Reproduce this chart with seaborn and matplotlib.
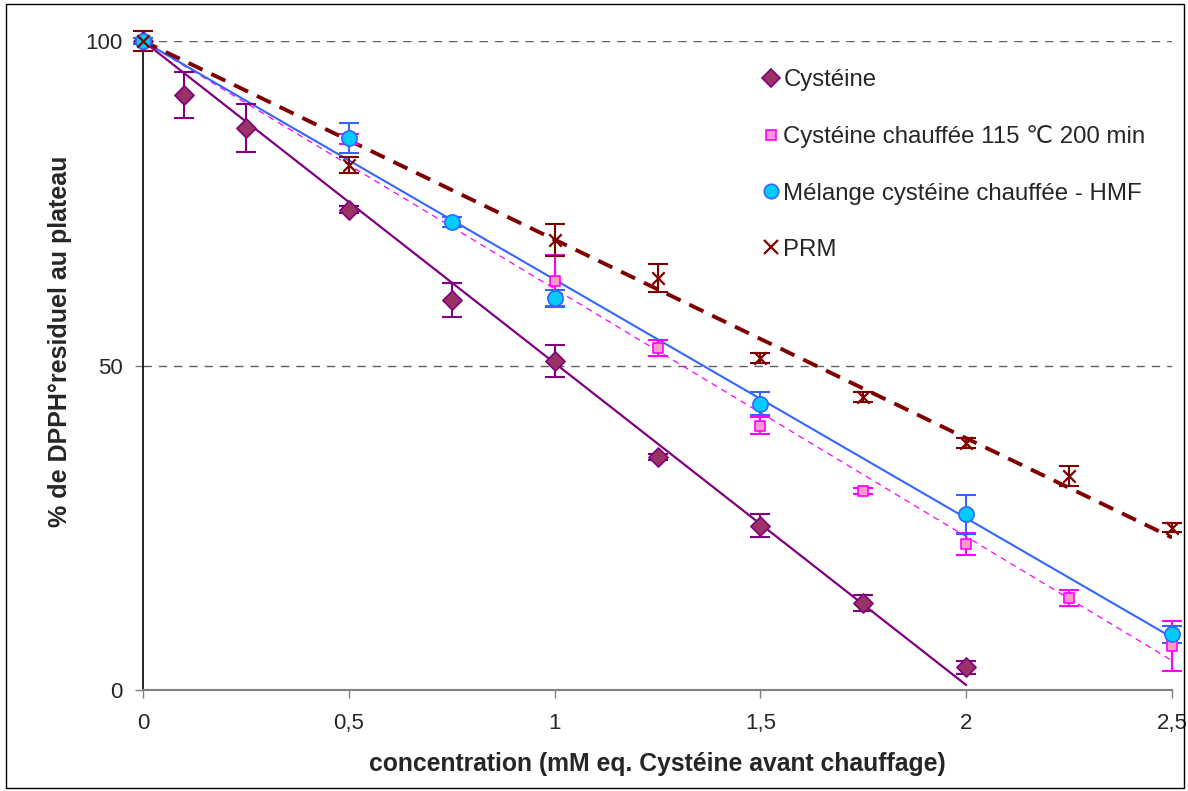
import numpy as np
import pandas as pd
import matplotlib
matplotlib.use("Agg")
import matplotlib.pyplot as plt
import seaborn as sns
from matplotlib.lines import Line2D
from matplotlib.patches import Rectangle

# ---------------- data ----------------
cys_x = [0, 0.1, 0.25, 0.5, 0.75, 1, 1.25, 1.5, 1.75, 2]
cys_y = [100, 91.7, 86.6, 74.0, 60.1, 50.7, 35.9, 25.3, 13.4, 3.5]
cys_e = [0.5, 3.6, 3.7, 0.5, 2.6, 2.5, 0.5, 1.8, 1.3, 1.0]

heat_x = [0, 0.5, 1, 1.25, 1.5, 1.75, 2, 2.25, 2.5]
heat_y = [100, 84.9, 63.0, 52.7, 40.7, 30.7, 22.5, 14.2, 6.8]
heat_e = [0.5, 0.8, 4.0, 1.2, 1.3, 0.5, 1.7, 1.2, 3.9]

mix_x = [0, 0.5, 0.75, 1, 1.5, 2, 2.5]
mix_y = [100, 85.1, 72.1, 60.4, 44.1, 27.1, 8.6]
mix_e = [0.5, 2.3, 0.8, 1.2, 1.8, 3.0, 1.3]

prm_x = [0, 0.5, 1, 1.25, 1.5, 1.75, 2, 2.25, 2.5]
prm_y = [100, 80.9, 69.3, 63.5, 51.2, 45.1, 38.1, 33.0, 25.0]
prm_e = [1.5, 1.2, 2.5, 2.1, 0.8, 0.8, 0.8, 1.5, 0.7]

labels = ["Cystéine", "Cystéine chauffée 115 \u2103 200 min",
          "Mélange cystéine chauffée - HMF", "PRM"]
x_ticks = [0, 0.5, 1, 1.5, 2, 2.5]
x_ticklabels = ["0", "0,5", "1", "1,5", "2", "2,5"]
y_ticks = [0, 50, 100]
y_ticklabels = ["0", "50", "100"]

# ---------------- style ----------------
sns.set_theme(style="white")
plt.rcParams['font.family'] = ['Liberation Sans', 'DejaVu Sans']

fig = plt.figure(figsize=(11.88, 7.91), dpi=100)
ax = fig.add_axes([143/1188, 1-690/791, (1172-143)/1188, (690-41)/791])
fig.patches.append(Rectangle((6/1188, 3/791), 1178/1188, 784/791, transform=fig.transFigure,
                             fill=False, edgecolor='black', linewidth=1.0))

series = [
    dict(x=cys_x, y=cys_y, e=cys_e, marker='D', fc='#993366', ec='#800080', ecol='#800080',
         s=95, lcol='#800080', ls='-', lw=1.6, xmax=2.0),
    dict(x=heat_x, y=heat_y, e=heat_e, marker='s', fc='#FF99CC', ec='#FF00FF', ecol='#FF00FF',
         s=60, lcol='#FF00FF', ls=(0, (5, 4)), lw=0.9, xmax=2.5),
    dict(x=mix_x, y=mix_y, e=mix_e, marker='o', fc='#00CCFF', ec='#3366FF', ecol='#3366FF',
         s=120, lcol='#3366FF', ls='-', lw=1.5, xmax=2.5),
    dict(x=prm_x, y=prm_y, e=prm_e, marker='x', fc='#800000', ec='#800000', ecol='#800000',
         s=80, lcol='#800000', ls=(0, (4, 2.5)), lw=2.8, xmax=2.5),
]

# gridlines
for yv in [50, 100]:
    ax.axhline(yv, color='#606060', lw=1.0, ls=(0, (6, 5)), zorder=1)

for i, sd in enumerate(series):
    x = np.array(sd['x'], dtype=float)
    y = np.array(sd['y'], dtype=float)
    # trendline (least squares, intercept fixed at 100)
    slope = np.sum(x * (y - 100)) / np.sum(x * x)
    tx = np.array([0.0, sd['xmax']])
    ty = 100 + slope * tx
    sns.lineplot(x=tx, y=ty, ax=ax, color=sd['lcol'], lw=sd['lw'], linestyle=sd['ls'],
                 zorder=3 + i * 0.1, legend=False)
    ax.errorbar(x, y, yerr=sd['e'], fmt='none', ecolor=sd['ecol'], elinewidth=1.5,
                capsize=7, capthick=1.5, zorder=4, clip_on=False)
    df = pd.DataFrame({'x': x, 'y': y})
    if sd['marker'] == 'x':
        sns.scatterplot(data=df, x='x', y='y', ax=ax, marker='x', color=sd['fc'], s=sd['s'],
                        linewidth=1.6, zorder=5, clip_on=False, legend=False)
    else:
        sns.scatterplot(data=df, x='x', y='y', ax=ax, marker=sd['marker'], color=sd['fc'],
                        edgecolor=sd['ec'], linewidth=1.2, s=sd['s'], zorder=5,
                        clip_on=False, legend=False)

ax.set_xlim(0, 2.5)
ax.set_ylim(0, 100)
ax.set_xticks(x_ticks)
ax.set_xticklabels(x_ticklabels, fontsize=16)
ax.set_yticks(y_ticks)
ax.set_yticklabels(y_ticklabels, fontsize=16)
ax.tick_params(axis='both', direction='out', length=6, width=1, color='#808080',
               bottom=True, left=True)
ax.tick_params(axis='x', pad=10.5)
ax.tick_params(axis='y', pad=8.5)
for sp in ['top', 'right']:
    ax.spines[sp].set_visible(False)
ax.spines['left'].set_color('black')
ax.spines['bottom'].set_color('#808080')
ax.spines['left'].set_linewidth(1.2)
ax.spines['bottom'].set_linewidth(1.5)
ax.grid(False)
ax.set_xlabel("concentration (mM eq. Cystéine avant chauffage)", fontsize=17.8,
              fontweight='bold')
ax.xaxis.set_label_coords(0.5, (690 - 764) / 649)
ax.xaxis.label.set_verticalalignment('center')
ax.set_ylabel("% de DPPH°residuel au plateau", fontsize=18, fontweight='bold',
              family=['Liberation Sans Narrow', 'Liberation Sans'])
ax.yaxis.set_label_coords((60 - 143) / 1029, (690 - 341) / 649)
ax.yaxis.label.set_verticalalignment('center')

handles = []
for sd in series:
    if sd['marker'] == 'x':
        handles.append(Line2D([], [], ls='none', marker='x', color=sd['fc'], ms=10, mew=1.6))
    else:
        handles.append(Line2D([], [], ls='none', marker=sd['marker'], mfc=sd['fc'],
                              mec=sd['ec'], ms=np.sqrt(sd['s']) * 0.95, mew=1.2))
leg = ax.legend(handles, labels, loc='upper left', bbox_to_anchor=(0.5914, 0.971),
                frameon=False, fontsize=17.3, labelspacing=1.42, handletextpad=0.12,
                handlelength=0.8, borderaxespad=0)

fig.savefig("out.png", dpi=100)
